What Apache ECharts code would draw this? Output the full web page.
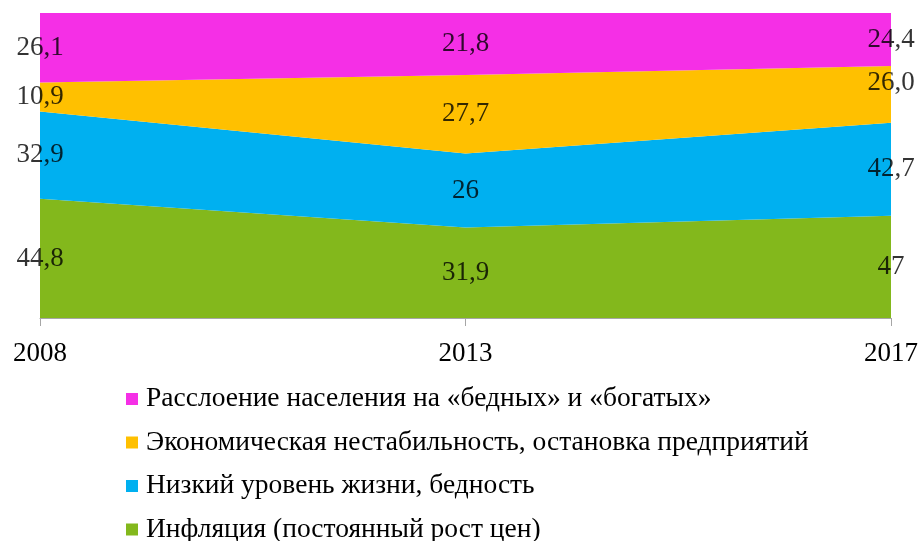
<!DOCTYPE html>
<html>
<head>
<meta charset="utf-8">
<script src="https://cdn.jsdelivr.net/npm/echarts@6/dist/echarts.min.js"></script>
<style>
    html, body { margin: 0; padding: 0; background: #fff; }
    #chart { width: 921px; height: 541px; }
</style>
</head>
<body>
<div id="chart"></div>
<script>
// годы
var years = ["2008", "2013", "2017"]
// значения (снизу вверх)
var inflation = [44.8, 31.9, 47]
var poverty = [32.9, 26, 42.7]
var instability = [10.9, 27.7, 26.0]
var inequality = [26.1, 21.8, 24.4]
var valueLabels = [
    ["44,8", "31,9", "47"],
    ["32,9", "26", "42,7"],
    ["10,9", "27,7", "26,0"],
    ["26,1", "21,8", "24,4"]
]
var names = [
    "Инфляция (постоянный рост цен)",
    "Низкий уровень жизни, бедность",
    "Экономическая нестабильность, остановка предприятий",
    "Расслоение населения на «бедных» и «богатых»"
]
var colors = ["#83b81c", "#00b0f0", "#ffc000", "#f52fe6"]

var rows = [inflation, poverty, instability, inequality]
var totals = years.map(function(y, i) {
    return rows.reduce(function(s, r) { return s + r[i] }, 0)
})
// 100% нормирование
var pct = rows.map(function(r) {
    return r.map(function(v, i) { return v / totals[i] * 100 })
})

var series = []
pct.forEach(function(r, k) {
    series.push({
        name: names[k],
        type: "line",
        stack: "all",
        data: r,
        symbol: "none",
        lineStyle: { width: 0 },
        areaStyle: { color: colors[k], opacity: 1 },
        itemStyle: { color: colors[k] },
        emphasis: { disabled: true },
        z: 2
    })
})

// подписи в середине каждой полосы
var labelData = []
years.forEach(function(y, i) {
    var base = 0
    pct.forEach(function(r, k) {
        var mid = base + r[i] / 2
        base += r[i]
        var item = { value: [i, mid], name: valueLabels[k][i] }
        if (k === 2 && i === 2) item.label = { offset: [0, -12] }
        labelData.push(item)
    })
})
series.push({
    type: "scatter",
    data: labelData,
    symbolSize: 0,
    silent: true,
    z: 5,
    label: {
        show: true,
        position: "inside",
        formatter: function(p) { return p.name },
        fontFamily: "Liberation Serif",
        fontSize: 27,
        color: "#000"
    }
})

var chart = echarts.init(document.getElementById("chart"))
chart.setOption({
    animation: false,
    grid: { left: 40, right: 28, top: 13, bottom: 223, containLabel: false },
    legend: {
        data: names.slice().reverse(),
        orient: "vertical",
        left: 126,
        top: 385,
        height: 220,
        padding: 0,
        icon: "rect",
        itemWidth: 12,
        itemHeight: 12,
        itemGap: 15.5,
        selectedMode: false,
        textStyle: { fontFamily: "Liberation Serif", fontSize: 27.5, lineHeight: 26, color: "#000", padding: [0, 0, 0, 3] }
    },
    xAxis: {
        type: "category",
        data: years,
        boundaryGap: false,
        axisLine: { lineStyle: { color: "#a6a6a6", width: 1 } },
        axisTick: { show: true, length: 8, lineStyle: { color: "#a6a6a6" } },
        axisLabel: { fontFamily: "Liberation Serif", fontSize: 27, color: "#000", margin: 22 },
        splitLine: { show: false }
    },
    yAxis: {
        type: "value",
        min: 0,
        max: 100,
        show: false,
        splitLine: { show: false }
    },
    series: series
})
</script>
</body>
</html>
